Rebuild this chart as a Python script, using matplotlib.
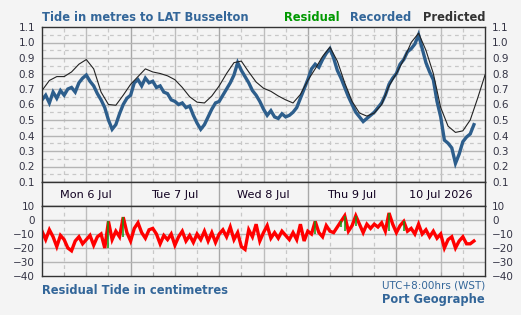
import matplotlib.pyplot as plt
import numpy as np

# hours from Mon 6 Jul 00:00
pred_hours = np.arange(0, 121, 2)
predicted = [0.69, 0.755, 0.78, 0.78, 0.81, 0.86, 0.89, 0.83, 0.68, 0.60,
             0.595, 0.66, 0.73, 0.78, 0.83, 0.81, 0.80, 0.785, 0.76, 0.71,
             0.65, 0.615, 0.61, 0.655, 0.72, 0.80, 0.87, 0.88, 0.81, 0.745,
             0.705, 0.685, 0.655, 0.63, 0.61, 0.665, 0.755, 0.83, 0.91, 0.97,
             0.88, 0.74, 0.62, 0.545, 0.525, 0.545, 0.60, 0.72, 0.80, 0.89,
             1.00, 1.06, 0.95, 0.80, 0.58, 0.46, 0.42, 0.43, 0.50, 0.64,
             0.79]

rec_hours = np.arange(0, 118, 1)
recorded = [0.63, 0.66, 0.61, 0.68, 0.64, 0.69, 0.66, 0.70, 0.71, 0.68,
            0.74, 0.77, 0.79, 0.75, 0.72, 0.67, 0.63, 0.58, 0.50, 0.44,
            0.47, 0.54, 0.60, 0.64, 0.66, 0.74, 0.76, 0.72, 0.77, 0.74,
            0.75, 0.71, 0.72, 0.68, 0.67, 0.63, 0.62, 0.60, 0.61, 0.58,
            0.59, 0.53, 0.48, 0.44, 0.47, 0.52, 0.57, 0.61, 0.62, 0.66,
            0.70, 0.74, 0.79, 0.87, 0.82, 0.78, 0.74, 0.69, 0.66, 0.62,
            0.57, 0.53, 0.56, 0.52, 0.51, 0.54, 0.52, 0.53, 0.55, 0.58,
            0.64, 0.70, 0.76, 0.83, 0.86, 0.84, 0.89, 0.93, 0.96, 0.90,
            0.82, 0.77, 0.71, 0.65, 0.60, 0.55, 0.52, 0.49, 0.51, 0.53,
            0.55, 0.58, 0.61, 0.66, 0.73, 0.77, 0.80, 0.86, 0.89, 0.94,
            0.96, 0.99, 1.05, 0.96, 0.87, 0.81, 0.76, 0.62, 0.52, 0.37,
            0.35, 0.32, 0.22, 0.28, 0.36, 0.39, 0.41, 0.47]

residual = [-8, -14, -7, -12, -19, -11, -14, -20, -22, -15,
            -12, -17, -14, -11, -18, -12, -10, -20, -1, -14,
            -8, -12, 2, -9, -15, -6, -2, -9, -13, -7,
            -6, -10, -17, -11, -14, -10, -18, -12, -8, -15,
            -11, -16, -10, -14, -8, -15, -9, -16, -10, -7,
            -12, -5, -14, -9, -19, -21, -7, -12, -3, -15,
            -9, -4, -13, -9, -13, -8, -11, -14, -9, -14,
            -3, -15, -8, -10, -1, -9, -12, -4, -8, -9,
            -5, -1, 3, -8, -4, 3, -3, -9, -3, -6,
            -3, -5, -2, -8, 5, -3, -9, -4, -1, -8,
            -6, -10, -3, -10, -7, -12, -8, -13, -10, -20,
            -14, -12, -20, -15, -12, -17, -17, -15]

day_labels = ['Mon 6 Jul', 'Tue 7 Jul', 'Wed 8 Jul', 'Thu 9 Jul', '10 Jul 2026']
tide_ticks = [0.1, 0.2, 0.3, 0.4, 0.5, 0.6, 0.7, 0.8, 0.9, 1.0, 1.1]
res_ticks = [10, 0, -10, -20, -30, -40]

bg = '#f4f4f4'
blue = '#336699'
frame = '#333333'
tickc = '#333344'

W, H = 521, 315
fig = plt.figure(figsize=(W / 100, H / 100), dpi=100, facecolor=bg)

def box(top, bottom):
    return [42 / W, (H - bottom) / H, 443 / W, (bottom - top) / H]

ax = fig.add_axes(box(27, 182))
band = fig.add_axes(box(182, 206))
ax2 = fig.add_axes(box(206, 276))

for a in (ax, band, ax2):
    a.set_facecolor(bg)
    a.set_xlim(0, 120)
    for s in a.spines.values():
        s.set_color(frame)
        s.set_linewidth(1.0)

def vgrid(a):
    for h in range(6, 120, 6):
        if h % 24 == 0:
            a.axvline(h, color='#a8a8a8', lw=1.0, zorder=0)
        elif h % 12 == 0:
            a.axvline(h, color='#bdbdbd', lw=1.0, zorder=0)
        else:
            a.axvline(h, color='#c8c8c8', lw=0.9, ls=(0, (3, 3)), zorder=0)

# top panel
vgrid(ax)
for v in np.arange(0.15, 1.1, 0.1):
    ax.axhline(v, color='#c8c8c8', lw=0.9, ls=(0, (3, 3)), zorder=0)
for v in tide_ticks[1:-1]:
    ax.axhline(v, color='#b5b5b5', lw=1.0, zorder=0)
ax.plot(rec_hours, recorded, color='#2d5e8c', lw=2.4, solid_joinstyle='miter', zorder=2)
ax.plot(pred_hours, predicted, color='#222222', lw=0.8, zorder=3)
ax.set_ylim(0.1, 1.1)
ax.set_yticks(tide_ticks)
ax.set_yticklabels(['%.1f' % v for v in tide_ticks])
ax.set_xticks([])
ax.tick_params(axis='y', length=0, pad=5, labelsize=7.5, labelcolor=tickc,
               left=True, right=True, labelleft=True, labelright=True)

# date band
for h in (24, 48, 72, 96):
    band.axvline(h, color='#a8a8a8', lw=1.0)
band.set_ylim(0, 1)
band.set_xticks([])
band.set_yticks([])
for i, lab in enumerate(day_labels):
    band.text(12 + 24 * i, 0.45, lab, ha='center', va='center',
              fontsize=8.1, color='#100020')

# residual panel
vgrid(ax2)
for v in res_ticks[1:-1]:
    ax2.axhline(v, color='#b5b5b5', lw=1.0, zorder=0)
ax2.plot(rec_hours, residual, color='#ff0000', lw=2.4, solid_joinstyle='miter', zorder=2)
res = np.array(residual)
for i in np.where(res >= -1)[0]:
    ax2.vlines(rec_hours[i], min(res[i - 1], res[i + 1]), res[i],
               color='#119911', lw=1.1, zorder=3)
ax2.set_ylim(-40, 10)
ax2.set_yticks(res_ticks)
ax2.set_xticks(np.arange(6, 120, 6))
ax2.set_xticklabels([])
ax2.tick_params(axis='x', direction='in', length=3, color='#aaaaaa')
ax2.tick_params(axis='y', length=0, pad=5, labelsize=7.5, labelcolor=tickc,
                left=True, right=True, labelleft=True, labelright=True)

def px(x, y):
    return x / W, (H - y) / H

fig.text(*px(42, 21), 'Tide in metres to LAT Busselton', fontsize=8.3,
         fontweight='bold', color=blue, va='baseline')
fig.text(*px(340, 21), 'Residual', fontsize=8.3, fontweight='bold',
         color='#009900', ha='right', va='baseline')
fig.text(*px(411, 21), 'Recorded', fontsize=8.3, fontweight='bold',
         color=blue, ha='right', va='baseline')
fig.text(*px(485, 21), 'Predicted', fontsize=8.3, fontweight='bold',
         color='#333333', ha='right', va='baseline')
fig.text(*px(42, 294), 'Residual Tide in centimetres', fontsize=8.3,
         fontweight='bold', color=blue, va='baseline')
fig.text(*px(485, 289), 'UTC+8:00hrs (WST)', fontsize=7.5,
         color=blue, ha='right', va='baseline')
fig.text(*px(485, 303), 'Port Geographe', fontsize=8.3, fontweight='bold',
         color=blue, ha='right', va='baseline')

fig.savefig('out.png', dpi=100, facecolor=bg)
